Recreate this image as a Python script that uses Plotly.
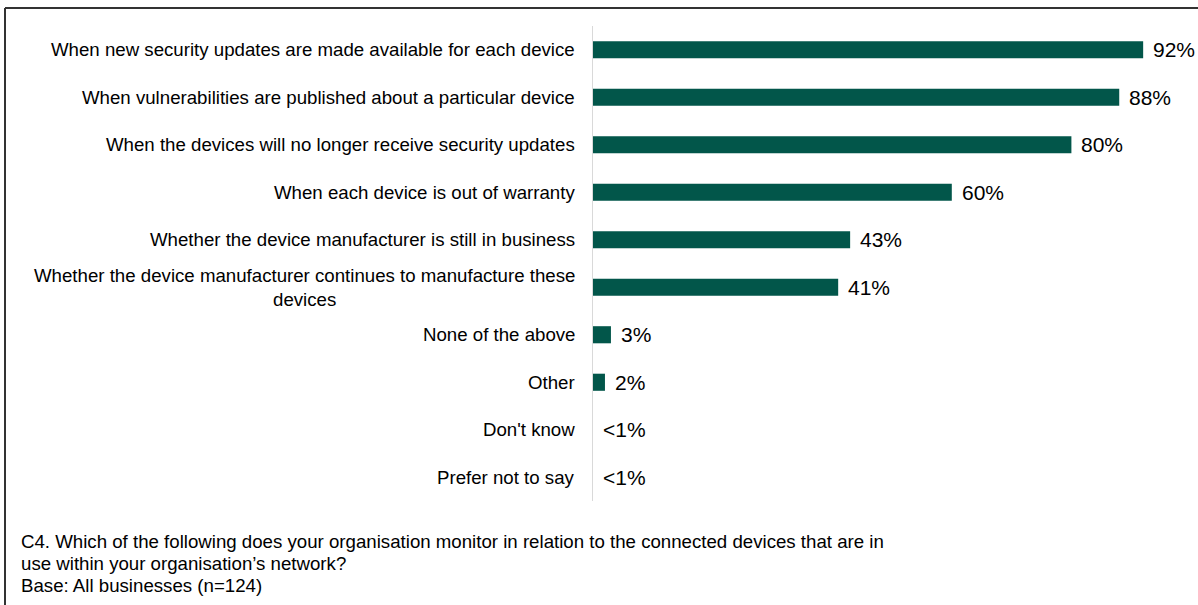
import plotly.graph_objects as go

# Survey items, share of businesses (%) and the printed value labels
categories = [
    "When new security updates are made available for each device",
    "When vulnerabilities are published about a particular device",
    "When the devices will no longer receive security updates",
    "When each device is out of warranty",
    "Whether the device manufacturer is still in business",
    "Whether the device manufacturer continues to manufacture these<br>devices",
    "None of the above",
    "Other",
    "Don't know",
    "Prefer not to say",
]
values = [92, 88, 80, 60, 43, 41, 3, 2, 0, 0]
value_labels = ["92%", "88%", "80%", "60%", "43%", "41%", "3%", "2%", "<1%", "<1%"]

footnote_lines = [
    "C4. Which of the following does your organisation monitor in relation to the connected devices that are in",
    "use within your organisation’s network?",
    "Base: All businesses (n=124)",
]

W, H = 1198, 605
ML, MR, MT, MB = 593, 7, 26, 104
PW, PH = W - ML - MR, H - MT - MB


def px_x(px):
    return (px - ML) / PW


def px_y(py):
    return (H - MB - py) / PH


FONT = "Liberation Sans, Arial, sans-serif"
BAR = "#02564A"
LABEL_SIZE = 18.67
VALUE_SIZE = 21

fig = go.Figure(
    go.Bar(
        x=values,
        y=categories,
        orientation="h",
        width=0.36,
        marker=dict(color=BAR, line=dict(width=0)),
        hoverinfo="skip",
    )
)

annotations = []
for cat, v, lab in zip(categories, values, value_labels):
    annotations.append(dict(
        x=0, y=cat, xref="x", yref="y", text=cat, showarrow=False,
        xanchor="right", yanchor="middle", align="center", xshift=-16,
        font=dict(family=FONT, size=LABEL_SIZE, color="#000000"),
    ))
    annotations.append(dict(
        x=v, y=cat, xref="x", yref="y", text=lab, showarrow=False,
        xanchor="left", yanchor="middle", xshift=8,
        font=dict(family=FONT, size=VALUE_SIZE, color="#000000"),
    ))

# question text and base, one line each
for i, line in enumerate(footnote_lines):
    annotations.append(dict(
        x=px_x(19), y=px_y(541 + 22 * i), xref="paper", yref="paper", text=line,
        showarrow=False, xanchor="left", yanchor="middle", align="left",
        font=dict(family=FONT, size=LABEL_SIZE, color="#000000"),
    ))

shapes = [
    # outer frame (top and left edges)
    dict(type="line", xref="paper", yref="paper",
         x0=px_x(5), x1=px_x(W + 5), y0=px_y(8), y1=px_y(8),
         line=dict(color="#333333", width=2)),
    dict(type="line", xref="paper", yref="paper",
         x0=px_x(5), x1=px_x(5), y0=px_y(8), y1=px_y(H + 5),
         line=dict(color="#333333", width=2)),
]

fig.update_layout(
    width=W, height=H,
    margin=dict(l=ML, r=MR, t=MT, b=MB, pad=0),
    paper_bgcolor="white", plot_bgcolor="white",
    showlegend=False,
    font=dict(family=FONT, size=16, color="#000000"),
    xaxis=dict(range=[0, 100], visible=False, fixedrange=True),
    yaxis=dict(
        categoryorder="array", categoryarray=categories,
        autorange="reversed", showticklabels=False, ticks="",
        showgrid=False, zeroline=False,
        showline=True, linecolor="#d9d9d9", linewidth=1,
        fixedrange=True,
    ),
    annotations=annotations,
    shapes=shapes,
)

fig.write_html("out.html")
